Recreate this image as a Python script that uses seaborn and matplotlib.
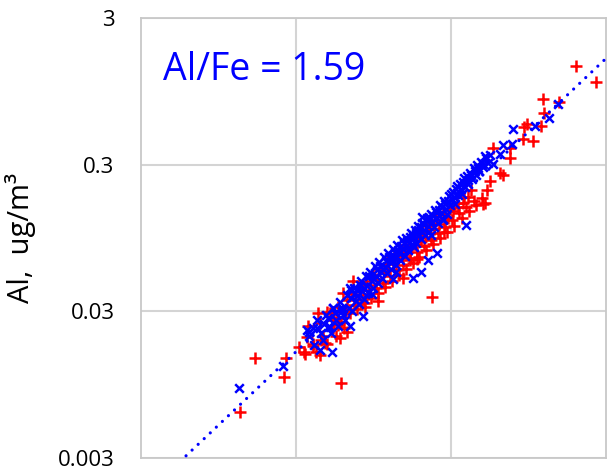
import numpy as np
import matplotlib
matplotlib.use("Agg")
import matplotlib.pyplot as plt
import seaborn as sns

# Fe (x) en Al (y) concentraties, ug/m3
blue_fe = [0.0122, 0.0131, 0.0137, 0.0144, 0.0149, 0.0156, 0.0161, 0.0169, 0.0174, 0.0181,
           0.0187, 0.0193, 0.0201, 0.0206, 0.0213, 0.0219,
           0.0226, 0.0231, 0.0237, 0.0243, 0.0249, 0.0254, 0.0262, 0.0268, 0.0273, 0.0281,
           0.0287, 0.0293, 0.0300, 0.0307, 0.0314, 0.0322, 0.0329, 0.0336, 0.0344, 0.0352,
           0.0360, 0.0368, 0.0376, 0.0384, 0.0393, 0.0402, 0.0411, 0.0420, 0.0430, 0.0440,
           0.0450, 0.0460, 0.0470, 0.0481, 0.0492, 0.0503,
           0.0515, 0.0527, 0.0535, 0.0548, 0.0560, 0.0572, 0.0585, 0.0598, 0.0610, 0.0624,
           0.0638, 0.0652, 0.0666, 0.0680, 0.0695, 0.0710, 0.0726, 0.0742, 0.0758, 0.0775,
           0.0792, 0.0810, 0.0828, 0.0846, 0.0865, 0.0884, 0.0904, 0.0924, 0.0945, 0.0966,
           0.0988,
           0.1010, 0.1035, 0.1060, 0.1085, 0.1110, 0.1140, 0.1170, 0.1200, 0.1230, 0.1260,
           0.1295, 0.1330, 0.1365, 0.1400, 0.1440, 0.1480, 0.1520, 0.1570, 0.1620, 0.1670,
           0.1730, 0.1790,
           0.0128, 0.0152, 0.0178, 0.0198, 0.0228, 0.0246, 0.0259, 0.0276, 0.0297, 0.0318,
           0.0333, 0.0350, 0.0365, 0.0381, 0.0398, 0.0415, 0.0434, 0.0455, 0.0476, 0.0497,
           0.0520, 0.0542, 0.0566, 0.0591, 0.0617, 0.0645, 0.0673, 0.0703, 0.0734, 0.0767,
           0.0800, 0.0836, 0.0873, 0.0912, 0.0952, 0.0995, 0.1050, 0.1100, 0.1160, 0.1220,
           0.1280, 0.1350, 0.1420, 0.1500, 0.1600, 0.0580, 0.0740, 0.0440, 0.0310, 0.0890,
           0.0043, 0.0082, 0.0121, 0.0136, 0.0118, 0.0143, 0.0171, 0.0173, 0.0198, 0.0161,
           0.0166, 0.0223, 0.0270, 0.0223, 0.0240, 0.0423, 0.0569, 0.0640, 0.0711, 0.0813,
           0.125, 0.166, 0.207, 0.187, 0.216, 0.248, 0.251, 0.348, 0.429, 0.49, 0.065]
blue_al = [0.0205, 0.0178, 0.0262, 0.0215, 0.0190, 0.0284, 0.0236, 0.0212, 0.0318, 0.0262,
           0.0240, 0.0345, 0.0282, 0.0262, 0.0390, 0.0318,
           0.0372, 0.0300, 0.0436, 0.0355, 0.0420, 0.0335, 0.0480, 0.0410, 0.0365, 0.0520,
           0.0445, 0.0400, 0.0560, 0.0480, 0.0430, 0.0610, 0.0520, 0.0470, 0.0650, 0.0560,
           0.0505, 0.0700, 0.0600, 0.0545, 0.0745, 0.0650, 0.0580, 0.0800, 0.0700, 0.0625,
           0.0850, 0.0745, 0.0670, 0.0915, 0.0800, 0.0715,
           0.0950, 0.0780, 0.0880, 0.1030, 0.0860, 0.0960, 0.1080, 0.0880, 0.1150, 0.1000,
           0.0930, 0.1200, 0.1080, 0.0990, 0.1300, 0.1140, 0.1050, 0.1390, 0.1220, 0.1130,
           0.1480, 0.1300, 0.1200, 0.1590, 0.1400, 0.1280, 0.1700, 0.1500, 0.1380, 0.1830,
           0.1600,
           0.1750, 0.1950, 0.1620, 0.2050, 0.1850, 0.2200, 0.1900, 0.2300, 0.2100, 0.2500,
           0.2200, 0.2650, 0.2400, 0.2850, 0.2550, 0.3000, 0.2700, 0.3150, 0.2900, 0.3350,
           0.3100, 0.3500,
           0.0232, 0.0245, 0.0290, 0.0300, 0.0420, 0.0380, 0.0455, 0.0430, 0.0520, 0.0500,
           0.0575, 0.0615, 0.0580, 0.0660, 0.0700, 0.0690, 0.0760, 0.0790, 0.0840, 0.0870,
           0.0900, 0.0960, 0.1000, 0.1020, 0.1080, 0.1130, 0.1180, 0.1230, 0.1290, 0.1350,
           0.1420, 0.1480, 0.1540, 0.1620, 0.1700, 0.1900, 0.1800, 0.2150, 0.2050, 0.2450,
           0.2350, 0.2550, 0.2700, 0.2850, 0.3050, 0.0820, 0.1000, 0.0560, 0.0395, 0.1250,
           0.0090, 0.0127, 0.0216, 0.0230, 0.0223, 0.0163, 0.0158, 0.0314, 0.0314, 0.0269,
           0.0233, 0.0237, 0.0277, 0.0436, 0.0397, 0.0502, 0.0510, 0.0552, 0.0667, 0.0755,
           0.117, 0.345, 0.356, 0.305, 0.410, 0.417, 0.527, 0.552, 0.627, 0.78, 0.131]

red_fe = [0.0105, 0.0113, 0.0120, 0.0128, 0.0135, 0.0142, 0.0150, 0.0158, 0.0165, 0.0172,
          0.0180, 0.0188, 0.0196, 0.0205, 0.0214,
          0.0222, 0.0230, 0.0238, 0.0247, 0.0256, 0.0265, 0.0274, 0.0284, 0.0294, 0.0304,
          0.0315, 0.0326, 0.0338, 0.0350, 0.0362, 0.0375, 0.0388, 0.0402, 0.0416, 0.0430,
          0.0445, 0.0460, 0.0476, 0.0492,
          0.0510, 0.0528, 0.0546, 0.0565, 0.0585, 0.0605, 0.0626, 0.0648, 0.0670, 0.0694,
          0.0718, 0.0743, 0.0769, 0.0796, 0.0824, 0.0853, 0.0883, 0.0914, 0.0946, 0.0980,
          0.1015, 0.1050, 0.1090, 0.1130, 0.1170, 0.1210, 0.1250, 0.1300, 0.1350, 0.1400,
          0.1450,
          0.0118, 0.0146, 0.0176, 0.0210, 0.0242, 0.0270, 0.0300, 0.0332, 0.0368, 0.0395,
          0.0424, 0.0452, 0.0484, 0.0518, 0.0556, 0.0595, 0.0637, 0.0682, 0.0730, 0.0781,
          0.0836, 0.0895, 0.0960, 0.1030, 0.1110, 0.1190, 0.1280, 0.0610, 0.0700, 0.0500,
          0.0390,
          0.00435, 0.0054, 0.0086, 0.0084, 0.0195, 0.0753, 0.64, 0.86, 0.39, 0.50,
          0.40, 0.31, 0.296, 0.381, 0.338, 0.292, 0.187, 0.240, 0.240, 0.207,
          0.216, 0.179, 0.158, 0.161, 0.090, 0.060, 0.0543, 0.049, 0.0338, 0.0279,
          0.0233, 0.0201, 0.0192, 0.0213, 0.0143, 0.0114, 0.0154, 0.0139, 0.0158, 0.0129,
          0.0184, 0.0187, 0.171, 0.166]
red_al = [0.0170, 0.0158, 0.0240, 0.0175, 0.0158, 0.0250, 0.0205, 0.0180, 0.0290, 0.0230,
          0.0205, 0.0320, 0.0255, 0.0230, 0.0360,
          0.0290, 0.0395, 0.0330, 0.0310, 0.0440, 0.0360, 0.0340, 0.0480, 0.0395, 0.0370,
          0.0530, 0.0430, 0.0400, 0.0580, 0.0470, 0.0440, 0.0630, 0.0520, 0.0480, 0.0700,
          0.0570, 0.0530, 0.0770, 0.0620,
          0.0580, 0.0850, 0.0690, 0.0640, 0.0940, 0.0760, 0.0700, 0.1040, 0.0840, 0.0780,
          0.1150, 0.0920, 0.0860, 0.1260, 0.1020, 0.0950, 0.1380, 0.1120, 0.1050, 0.1500,
          0.1250, 0.1150, 0.1650, 0.1400, 0.1300, 0.1800, 0.1550, 0.1450, 0.2000, 0.1700,
          0.1600,
          0.0200, 0.0190, 0.0260, 0.0300, 0.0365, 0.0420, 0.0450, 0.0500, 0.0560, 0.0580,
          0.0640, 0.0680, 0.0710, 0.0760, 0.0800, 0.0860, 0.0900, 0.0960, 0.1020, 0.1100,
          0.1180, 0.1250, 0.1300, 0.1450, 0.1550, 0.1650, 0.1800, 0.1000, 0.1180, 0.0850,
          0.0690,
          0.0062, 0.0144, 0.0145, 0.0107, 0.0097, 0.0373, 1.41, 1.10, 0.84, 0.805,
          0.68, 0.57, 0.545, 0.552, 0.436, 0.451, 0.392, 0.392, 0.335, 0.265,
          0.256, 0.233, 0.179, 0.163, 0.105, 0.0678, 0.0667, 0.051, 0.0351, 0.0319,
          0.048, 0.0397, 0.0196, 0.0216, 0.0151, 0.0153, 0.0182, 0.029, 0.0295, 0.0179,
          0.0269, 0.0241, 0.2, 0.165]

ratio = 1.59
line_fe = np.array([0.001, 1.0])
y_ticks = [0.003, 0.03, 0.3, 3]
y_labels = ["0.003", "0.03", "0.3", "3"]

sns.set_style("white")
plt.rcParams['font.family'] = ['Open Sans', 'DejaVu Sans']

fig = plt.figure(figsize=(6.08, 4.72), dpi=100)
ax = fig.add_axes([0.2319, 0.0297, 0.7648, 0.9322])
ax.set_xscale('log')
ax.set_yscale('log')

sns.scatterplot(x=red_fe, y=red_al, marker='+', color='#ff0000', s=70, linewidth=1.8, ax=ax, zorder=3)
sns.scatterplot(x=blue_fe, y=blue_al, marker='x', color='#0000ff', s=38, linewidth=1.8, ax=ax, zorder=4)
sns.lineplot(x=line_fe, y=ratio * line_fe, color='#0000ff', linewidth=2.3,
             linestyle=(0, (0.01, 2.6)), dash_capstyle='round', ax=ax, zorder=5)

ax.set_xlim(0.001, 1)
ax.set_ylim(0.003, 3)
ax.set_xticks([0.01, 0.1])
ax.set_xticklabels([])
ax.set_yticks(y_ticks)
ax.set_yticklabels(y_labels, fontsize=16, color='black')
ax.minorticks_off()
ax.tick_params(length=0, pad=19)
ax.grid(True, color='#d4d4d4', linewidth=1.5)
for sp in ax.spines.values():
    sp.set_color('#c8c8c8')
    sp.set_linewidth(1.3)

ax.set_ylabel("Al,  ug/m³", fontsize=21, labelpad=16, color='black')
ax.text(0.047, 0.859, "Al/Fe = 1.59", transform=ax.transAxes, color='#0000ff',
        fontsize=27, va='baseline', ha='left')

fig.savefig("out.png", dpi=100)
